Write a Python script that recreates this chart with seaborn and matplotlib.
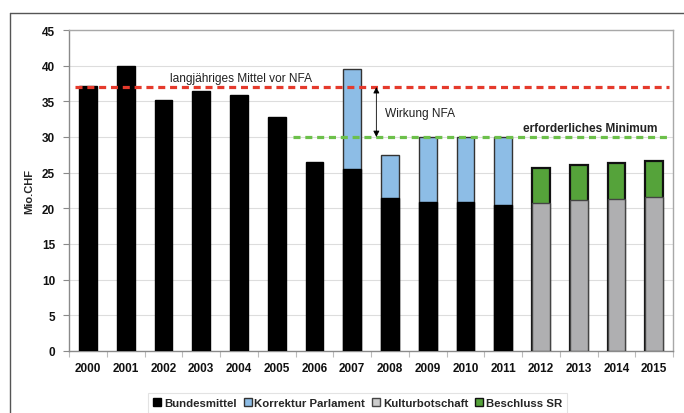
import numpy as np
import pandas as pd
import seaborn as sns
import matplotlib.pyplot as plt
from matplotlib.patches import Patch
from matplotlib.lines import Line2D

nan = np.nan
years = [str(y) for y in range(2000, 2016)]
bundesmittel = [37.2, 40.0, 35.2, 36.5, 35.9, 32.8, 26.5, 25.5, 21.5, 20.9, 20.9, 20.5, nan, nan, nan, nan]
korrektur = [nan, nan, nan, nan, nan, nan, nan, 14.0, 6.0, 9.1, 9.1, 9.5, nan, nan, nan, nan]
kulturbotschaft = [nan] * 12 + [20.8, 21.1, 21.3, 21.6]
beschluss_sr = [nan] * 12 + [4.9, 5.0, 5.0, 5.0]

mittel_vor_nfa = 37.0
minimum = 30.0

df = pd.DataFrame({
    "year": years,
    "bundesmittel": bundesmittel,
    "korrektur": korrektur,
    "kultur": kulturbotschaft,
    "beschluss": beschluss_sr,
})
df["top_korrektur"] = df["bundesmittel"] + df["korrektur"]
df["top_beschluss"] = df["kultur"] + df["beschluss"]

sns.set_theme(style="white")
plt.rcParams["font.family"] = ["Liberation Sans", "DejaVu Sans"]

c_black = "#000000"
c_blue = "#8DBDE6"
c_grey = "#AFAFB1"
c_green = "#55A33A"

fig = plt.figure(figsize=(6.84, 4.14), dpi=100)
ax = fig.add_axes([0.101, 0.150, 0.883, 0.775])

w = 0.47
# stacked bars: draw totals first, then the lower part on top
sns.barplot(data=df, x="year", y="top_korrektur", order=years, color=c_blue, width=w,
            saturation=1, edgecolor="#333333", linewidth=1.0, ax=ax, zorder=3)
sns.barplot(data=df, x="year", y="bundesmittel", order=years, color=c_black, width=w,
            saturation=1, edgecolor="#000000", linewidth=1.0, ax=ax, zorder=3)
sns.barplot(data=df, x="year", y="top_beschluss", order=years, color=c_green, width=w,
            saturation=1, edgecolor="#111111", linewidth=1.6, ax=ax, zorder=3)
sns.barplot(data=df, x="year", y="kultur", order=years, color=c_grey, width=w,
            saturation=1, edgecolor="#444444", linewidth=1.0, ax=ax, zorder=3)

# reference lines
ax.plot([-0.34, 15.4], [mittel_vor_nfa] * 2, color="#E53A2C", lw=2.3,
        dashes=(2.2, 1.5), zorder=4)
ax.plot([5.44, 15.4], [minimum] * 2, color="#6CC04A", lw=2.3,
        dashes=(2.2, 1.5), zorder=4)

ax.annotate("", xy=(7.64, mittel_vor_nfa), xytext=(7.64, minimum),
            arrowprops=dict(arrowstyle="<|-|>", color="black", lw=0.6,
                            mutation_scale=9, shrinkA=0, shrinkB=0), zorder=5)
ax.text(2.18, 38.3, "langjähriges Mittel vor NFA", fontsize=8.6, va="center",
        ha="left", color="#222222")
ax.text(7.88, 33.3, "Wirkung NFA", fontsize=8.6, va="center", ha="left", color="#222222")
ax.text(11.53, 31.2, "erforderliches Minimum", fontsize=8.6, va="center",
        ha="left", fontweight="bold", color="#222222")

ax.set_xlim(-0.5, 15.5)
ax.set_ylim(0, 45)
ax.set_yticks(range(0, 46, 5))
ax.set_xlabel("")
ax.set_ylabel("Mio.CHF", fontsize=8, fontweight="bold")
ax.yaxis.set_label_coords(-0.058, 0.5)
ax.yaxis.grid(True, color="#DDDDDD", lw=0.8, zorder=0)
ax.set_axisbelow(True)
for s in ax.spines.values():
    s.set_color("#A8A8A8")
    s.set_linewidth(1.0)
ax.spines["left"].set_color("#8A8A8A")
ax.spines["bottom"].set_color("#8A8A8A")

ax.tick_params(axis="y", which="major", length=4, width=0.8, color="#8A8A8A",
               direction="out", left=True, labelsize=8.5, pad=6)
ax.tick_params(axis="x", which="major", length=0, labelsize=8.5, pad=8)
ax.set_xticks(np.arange(-0.5, 15.6, 1.0), minor=True)
ax.tick_params(axis="x", which="minor", length=4, width=0.8, color="#BBBBBB",
               direction="out", bottom=True)
for lab in ax.get_xticklabels() + ax.get_yticklabels():
    lab.set_fontweight("bold")
    lab.set_color("#111111")

handles = [
    Patch(facecolor=c_black, edgecolor="#000000", label="Bundesmittel"),
    Patch(facecolor=c_blue, edgecolor="#333333", label="Korrektur Parlament"),
    Patch(facecolor="#CCCCCC", edgecolor="#444444", label="Kulturbotschaft"),
    Patch(facecolor=c_green, edgecolor="#111111", label="Beschluss SR"),
]
leg = fig.legend(handles=handles, loc="lower center", bbox_to_anchor=(0.523, -0.014),
                 ncol=4, frameon=True, fancybox=False, fontsize=8.2,
                 handlelength=0.7, handleheight=0.7, handletextpad=0.25,
                 columnspacing=0.6, borderpad=0.45)
leg.get_frame().set_edgecolor("#DDDDDD")
leg.get_frame().set_linewidth(0.8)
for t in leg.get_texts():
    t.set_fontweight("bold")

# outer frame of the figure
fig.add_artist(Line2D([0.0146, 1.0], [0.966, 0.966], transform=fig.transFigure,
                      color="#555555", lw=1.0))
fig.add_artist(Line2D([0.0146, 0.0146], [0.0, 0.966], transform=fig.transFigure,
                      color="#555555", lw=1.0))

fig.savefig("out.png", dpi=100)
